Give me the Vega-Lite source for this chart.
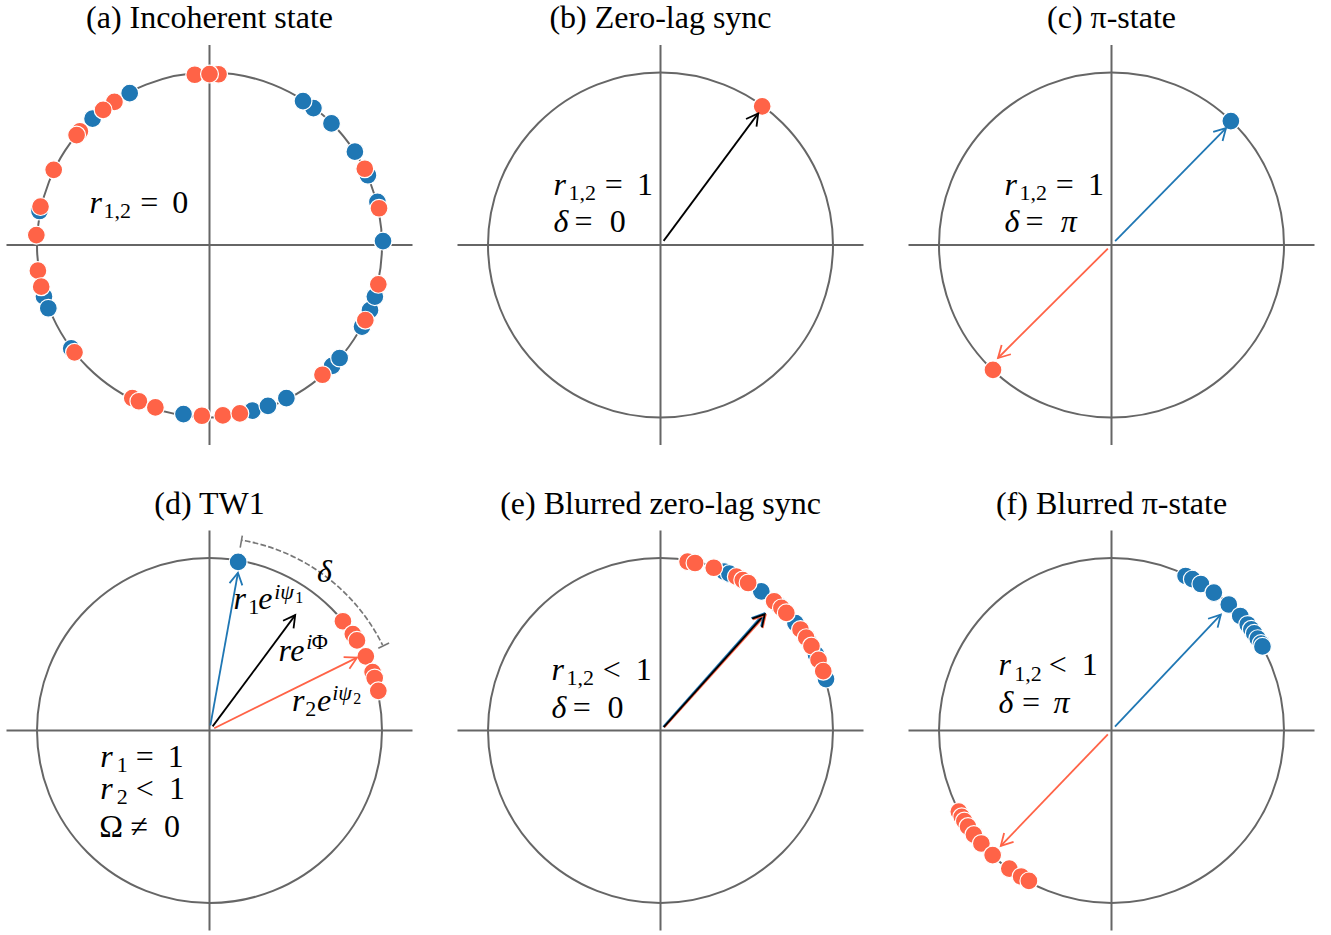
{
"$schema": "https://vega.github.io/schema/vega-lite/v6.json",
"background": "white",
"padding": {"left": 5.5, "top": 2, "right": 0, "bottom": 0},
"data": {"values": [
{"panel":"(a) Incoherent state","kind":"frame","x":0,"y":0},
{"panel":"(b) Zero-lag sync","kind":"frame","x":0,"y":0},
{"panel":"(c) π-state","kind":"frame","x":0,"y":0},
{"panel":"(d) TW1","kind":"frame","x":0,"y":0},
{"panel":"(e) Blurred zero-lag sync","kind":"frame","x":0,"y":0},
{"panel":"(f) Blurred π-state","kind":"frame","x":0,"y":0},

{"panel":"(a) Incoherent state","kind":"osc","pop":"1","x":-0.460,"y":0.888},
{"panel":"(a) Incoherent state","kind":"osc","pop":"1","x":-0.674,"y":0.739},
{"panel":"(a) Incoherent state","kind":"osc","pop":"1","x":-0.980,"y":0.199},
{"panel":"(a) Incoherent state","kind":"osc","pop":"1","x":-0.954,"y":-0.301},
{"panel":"(a) Incoherent state","kind":"osc","pop":"1","x":-0.929,"y":-0.370},
{"panel":"(a) Incoherent state","kind":"osc","pop":"1","x":-0.797,"y":-0.605},
{"panel":"(a) Incoherent state","kind":"osc","pop":"1","x":-0.150,"y":-0.989},
{"panel":"(a) Incoherent state","kind":"osc","pop":"1","x":0.247,"y":-0.969},
{"panel":"(a) Incoherent state","kind":"osc","pop":"1","x":0.337,"y":-0.941},
{"panel":"(a) Incoherent state","kind":"osc","pop":"1","x":0.443,"y":-0.896},
{"panel":"(a) Incoherent state","kind":"osc","pop":"1","x":0.707,"y":-0.707},
{"panel":"(a) Incoherent state","kind":"osc","pop":"1","x":0.750,"y":-0.661},
{"panel":"(a) Incoherent state","kind":"osc","pop":"1","x":0.879,"y":-0.477},
{"panel":"(a) Incoherent state","kind":"osc","pop":"1","x":0.925,"y":-0.381},
{"panel":"(a) Incoherent state","kind":"osc","pop":"1","x":0.953,"y":-0.302},
{"panel":"(a) Incoherent state","kind":"osc","pop":"1","x":1.000,"y":0.023},
{"panel":"(a) Incoherent state","kind":"osc","pop":"1","x":0.968,"y":0.252},
{"panel":"(a) Incoherent state","kind":"osc","pop":"1","x":0.913,"y":0.408},
{"panel":"(a) Incoherent state","kind":"osc","pop":"1","x":0.838,"y":0.546},
{"panel":"(a) Incoherent state","kind":"osc","pop":"1","x":0.703,"y":0.711},
{"panel":"(a) Incoherent state","kind":"osc","pop":"1","x":0.599,"y":0.801},
{"panel":"(a) Incoherent state","kind":"osc","pop":"1","x":0.539,"y":0.842},
{"panel":"(a) Incoherent state","kind":"osc","pop":"2","x":-0.085,"y":0.996},
{"panel":"(a) Incoherent state","kind":"osc","pop":"2","x":0.052,"y":0.999},
{"panel":"(a) Incoherent state","kind":"osc","pop":"2","x":0.000,"y":1.000},
{"panel":"(a) Incoherent state","kind":"osc","pop":"2","x":-0.548,"y":0.837},
{"panel":"(a) Incoherent state","kind":"osc","pop":"2","x":-0.613,"y":0.790},
{"panel":"(a) Incoherent state","kind":"osc","pop":"2","x":-0.747,"y":0.665},
{"panel":"(a) Incoherent state","kind":"osc","pop":"2","x":-0.766,"y":0.643},
{"panel":"(a) Incoherent state","kind":"osc","pop":"2","x":-0.898,"y":0.440},
{"panel":"(a) Incoherent state","kind":"osc","pop":"2","x":-0.974,"y":0.225},
{"panel":"(a) Incoherent state","kind":"osc","pop":"2","x":-0.998,"y":0.058},
{"panel":"(a) Incoherent state","kind":"osc","pop":"2","x":-0.989,"y":-0.150},
{"panel":"(a) Incoherent state","kind":"osc","pop":"2","x":-0.970,"y":-0.244},
{"panel":"(a) Incoherent state","kind":"osc","pop":"2","x":-0.778,"y":-0.628},
{"panel":"(a) Incoherent state","kind":"osc","pop":"2","x":-0.445,"y":-0.896},
{"panel":"(a) Incoherent state","kind":"osc","pop":"2","x":-0.407,"y":-0.914},
{"panel":"(a) Incoherent state","kind":"osc","pop":"2","x":-0.312,"y":-0.950},
{"panel":"(a) Incoherent state","kind":"osc","pop":"2","x":-0.044,"y":-0.999},
{"panel":"(a) Incoherent state","kind":"osc","pop":"2","x":0.077,"y":-0.997},
{"panel":"(a) Incoherent state","kind":"osc","pop":"2","x":0.175,"y":-0.985},
{"panel":"(a) Incoherent state","kind":"osc","pop":"2","x":0.651,"y":-0.759},
{"panel":"(a) Incoherent state","kind":"osc","pop":"2","x":0.898,"y":-0.440},
{"panel":"(a) Incoherent state","kind":"osc","pop":"2","x":0.973,"y":-0.230},
{"panel":"(a) Incoherent state","kind":"osc","pop":"2","x":0.977,"y":0.215},
{"panel":"(a) Incoherent state","kind":"osc","pop":"2","x":0.895,"y":0.446},

{"panel":"(b) Zero-lag sync","kind":"osc","pop":"2","x":0.586,"y":0.811},
{"panel":"(c) π-state","kind":"osc","pop":"1","x":0.688,"y":0.725},
{"panel":"(c) π-state","kind":"osc","pop":"2","x":-0.683,"y":-0.731},

{"panel":"(d) TW1","kind":"osc","pop":"1","x":0.165,"y":0.986},
{"panel":"(d) TW1","kind":"osc","pop":"2","x":0.769,"y":0.639},
{"panel":"(d) TW1","kind":"osc","pop":"2","x":0.826,"y":0.564},
{"panel":"(d) TW1","kind":"osc","pop":"2","x":0.850,"y":0.527},
{"panel":"(d) TW1","kind":"osc","pop":"2","x":0.901,"y":0.434},
{"panel":"(d) TW1","kind":"osc","pop":"2","x":0.940,"y":0.342},
{"panel":"(d) TW1","kind":"osc","pop":"2","x":0.952,"y":0.307},
{"panel":"(d) TW1","kind":"osc","pop":"2","x":0.973,"y":0.232},

{"panel":"(e) Blurred zero-lag sync","kind":"osc","pop":"1","x":0.182,"y":0.983},
{"panel":"(e) Blurred zero-lag sync","kind":"osc","pop":"1","x":0.367,"y":0.930},
{"panel":"(e) Blurred zero-lag sync","kind":"osc","pop":"1","x":0.397,"y":0.918},
{"panel":"(e) Blurred zero-lag sync","kind":"osc","pop":"1","x":0.462,"y":0.887},
{"panel":"(e) Blurred zero-lag sync","kind":"osc","pop":"1","x":0.581,"y":0.814},
{"panel":"(e) Blurred zero-lag sync","kind":"osc","pop":"1","x":0.682,"y":0.731},
{"panel":"(e) Blurred zero-lag sync","kind":"osc","pop":"1","x":0.778,"y":0.628},
{"panel":"(e) Blurred zero-lag sync","kind":"osc","pop":"1","x":0.853,"y":0.522},
{"panel":"(e) Blurred zero-lag sync","kind":"osc","pop":"1","x":0.896,"y":0.445},
{"panel":"(e) Blurred zero-lag sync","kind":"osc","pop":"1","x":0.954,"y":0.301},
{"panel":"(e) Blurred zero-lag sync","kind":"osc","pop":"2","x":0.156,"y":0.988},
{"panel":"(e) Blurred zero-lag sync","kind":"osc","pop":"2","x":0.199,"y":0.980},
{"panel":"(e) Blurred zero-lag sync","kind":"osc","pop":"2","x":0.307,"y":0.952},
{"panel":"(e) Blurred zero-lag sync","kind":"osc","pop":"2","x":0.437,"y":0.900},
{"panel":"(e) Blurred zero-lag sync","kind":"osc","pop":"2","x":0.474,"y":0.880},
{"panel":"(e) Blurred zero-lag sync","kind":"osc","pop":"2","x":0.505,"y":0.863},
{"panel":"(e) Blurred zero-lag sync","kind":"osc","pop":"2","x":0.655,"y":0.756},
{"panel":"(e) Blurred zero-lag sync","kind":"osc","pop":"2","x":0.697,"y":0.717},
{"panel":"(e) Blurred zero-lag sync","kind":"osc","pop":"2","x":0.725,"y":0.688},
{"panel":"(e) Blurred zero-lag sync","kind":"osc","pop":"2","x":0.807,"y":0.591},
{"panel":"(e) Blurred zero-lag sync","kind":"osc","pop":"2","x":0.840,"y":0.543},
{"panel":"(e) Blurred zero-lag sync","kind":"osc","pop":"2","x":0.870,"y":0.494},
{"panel":"(e) Blurred zero-lag sync","kind":"osc","pop":"2","x":0.911,"y":0.413},
{"panel":"(e) Blurred zero-lag sync","kind":"osc","pop":"2","x":0.938,"y":0.347},

{"panel":"(f) Blurred π-state","kind":"osc","pop":"1","x":0.427,"y":0.904},
{"panel":"(f) Blurred π-state","kind":"osc","pop":"1","x":0.466,"y":0.885},
{"panel":"(f) Blurred π-state","kind":"osc","pop":"1","x":0.515,"y":0.857},
{"panel":"(f) Blurred π-state","kind":"osc","pop":"1","x":0.590,"y":0.807},
{"panel":"(f) Blurred π-state","kind":"osc","pop":"1","x":0.676,"y":0.737},
{"panel":"(f) Blurred π-state","kind":"osc","pop":"1","x":0.742,"y":0.670},
{"panel":"(f) Blurred π-state","kind":"osc","pop":"1","x":0.785,"y":0.620},
{"panel":"(f) Blurred π-state","kind":"osc","pop":"1","x":0.806,"y":0.592},
{"panel":"(f) Blurred π-state","kind":"osc","pop":"1","x":0.823,"y":0.568},
{"panel":"(f) Blurred π-state","kind":"osc","pop":"1","x":0.843,"y":0.537},
{"panel":"(f) Blurred π-state","kind":"osc","pop":"1","x":0.862,"y":0.508},
{"panel":"(f) Blurred π-state","kind":"osc","pop":"1","x":0.870,"y":0.492},
{"panel":"(f) Blurred π-state","kind":"osc","pop":"2","x":-0.880,"y":-0.474},
{"panel":"(f) Blurred π-state","kind":"osc","pop":"2","x":-0.863,"y":-0.505},
{"panel":"(f) Blurred π-state","kind":"osc","pop":"2","x":-0.848,"y":-0.530},
{"panel":"(f) Blurred π-state","kind":"osc","pop":"2","x":-0.827,"y":-0.562},
{"panel":"(f) Blurred π-state","kind":"osc","pop":"2","x":-0.793,"y":-0.609},
{"panel":"(f) Blurred π-state","kind":"osc","pop":"2","x":-0.750,"y":-0.661},
{"panel":"(f) Blurred π-state","kind":"osc","pop":"2","x":-0.685,"y":-0.729},
{"panel":"(f) Blurred π-state","kind":"osc","pop":"2","x":-0.589,"y":-0.808},
{"panel":"(f) Blurred π-state","kind":"osc","pop":"2","x":-0.521,"y":-0.854},
{"panel":"(f) Blurred π-state","kind":"osc","pop":"2","x":-0.476,"y":-0.880},

{"panel":"(b) Zero-lag sync","kind":"arrow","pop":"mean","x":0.018,"y":0.024,"x2":0.563,"y2":0.770,"phase":53.8},
{"panel":"(c) π-state","kind":"arrow","pop":"1","x":0.021,"y":0.022,"x2":0.660,"y2":0.684,"phase":46.0},
{"panel":"(c) π-state","kind":"arrow","pop":"2","x":-0.021,"y":-0.021,"x2":-0.654,"y2":-0.661,"phase":225.3},
{"panel":"(d) TW1","kind":"arrow","pop":"1","x":0.005,"y":0.030,"x2":0.164,"y2":0.923,"phase":80.0},
{"panel":"(d) TW1","kind":"arrow","pop":"2","x":0.027,"y":0.013,"x2":0.850,"y2":0.426,"phase":26.6},
{"panel":"(d) TW1","kind":"arrow","pop":"mean","x":0.018,"y":0.024,"x2":0.494,"y2":0.675,"phase":53.8},
{"panel":"(e) Blurred zero-lag sync","kind":"arrow","pop":"1","x":0.015,"y":0.022,"x2":0.596,"y2":0.685,"phase":49.0},
{"panel":"(e) Blurred zero-lag sync","kind":"arrow","pop":"2","x":0.022,"y":0.018,"x2":0.606,"y2":0.675,"phase":48.0},
{"panel":"(e) Blurred zero-lag sync","kind":"arrow","pop":"mean","x":0.019,"y":0.020,"x2":0.601,"y2":0.680,"phase":48.5},
{"panel":"(f) Blurred π-state","kind":"arrow","pop":"1","x":0.020,"y":0.022,"x2":0.630,"y2":0.678,"phase":47.1},
{"panel":"(f) Blurred π-state","kind":"arrow","pop":"2","x":-0.021,"y":-0.022,"x2":-0.638,"y2":-0.675,"phase":226.6},

{"panel":"(d) TW1","kind":"delta","phase":80.6,"phase2":26.3},
{"panel":"(d) TW1","kind":"tick","x":0.177,"y":1.070,"x2":0.189,"y2":1.140},
{"panel":"(d) TW1","kind":"tick","x":0.973,"y":0.481,"x2":1.035,"y2":0.512},

{"panel":"(a) Incoherent state","kind":"label","glyph":"var","level":0,"text":"r","x":-0.692,"y":0.187},
{"panel":"(a) Incoherent state","kind":"label","glyph":"num","level":1,"text":"1,2","x":-0.611,"y":0.158},
{"panel":"(a) Incoherent state","kind":"label","glyph":"num","level":0,"text":"=","x":-0.399,"y":0.187},
{"panel":"(a) Incoherent state","kind":"label","glyph":"num","level":0,"text":"0","x":-0.215,"y":0.187},

{"panel":"(b) Zero-lag sync","kind":"label","glyph":"var","level":0,"text":"r","x":-0.617,"y":0.292},
{"panel":"(b) Zero-lag sync","kind":"label","glyph":"num","level":1,"text":"1,2","x":-0.530,"y":0.263},
{"panel":"(b) Zero-lag sync","kind":"label","glyph":"num","level":0,"text":"=","x":-0.322,"y":0.292},
{"panel":"(b) Zero-lag sync","kind":"label","glyph":"num","level":0,"text":"1","x":-0.135,"y":0.292},
{"panel":"(b) Zero-lag sync","kind":"label","glyph":"var","level":0,"text":"δ","x":-0.617,"y":0.078},
{"panel":"(b) Zero-lag sync","kind":"label","glyph":"num","level":0,"text":"=","x":-0.495,"y":0.078},
{"panel":"(b) Zero-lag sync","kind":"label","glyph":"num","level":0,"text":"0","x":-0.293,"y":0.078},

{"panel":"(c) π-state","kind":"label","glyph":"var","level":0,"text":"r","x":-0.617,"y":0.292},
{"panel":"(c) π-state","kind":"label","glyph":"num","level":1,"text":"1,2","x":-0.530,"y":0.263},
{"panel":"(c) π-state","kind":"label","glyph":"num","level":0,"text":"=","x":-0.322,"y":0.292},
{"panel":"(c) π-state","kind":"label","glyph":"num","level":0,"text":"1","x":-0.135,"y":0.292},
{"panel":"(c) π-state","kind":"label","glyph":"var","level":0,"text":"δ","x":-0.617,"y":0.078},
{"panel":"(c) π-state","kind":"label","glyph":"num","level":0,"text":"=","x":-0.495,"y":0.078},
{"panel":"(c) π-state","kind":"label","glyph":"var","level":0,"text":"π","x":-0.293,"y":0.078},

{"panel":"(d) TW1","kind":"label","glyph":"var","level":0,"text":"r","x":0.138,"y":0.711},
{"panel":"(d) TW1","kind":"label","glyph":"num","level":1,"text":"1","x":0.223,"y":0.681},
{"panel":"(d) TW1","kind":"label","glyph":"var","level":0,"text":"e","x":0.281,"y":0.711},
{"panel":"(d) TW1","kind":"label","glyph":"var","level":1,"text":"iψ","x":0.373,"y":0.769},
{"panel":"(d) TW1","kind":"label","glyph":"num","level":2,"text":"1","x":0.494,"y":0.746},
{"panel":"(d) TW1","kind":"label","glyph":"var","level":0,"text":"r","x":0.398,"y":0.406},
{"panel":"(d) TW1","kind":"label","glyph":"var","level":0,"text":"e","x":0.465,"y":0.406},
{"panel":"(d) TW1","kind":"label","glyph":"var","level":1,"text":"i","x":0.557,"y":0.477},
{"panel":"(d) TW1","kind":"label","glyph":"num","level":1,"text":"Φ","x":0.590,"y":0.477},
{"panel":"(d) TW1","kind":"label","glyph":"var","level":0,"text":"r","x":0.475,"y":0.114},
{"panel":"(d) TW1","kind":"label","glyph":"num","level":1,"text":"2","x":0.552,"y":0.085},
{"panel":"(d) TW1","kind":"label","glyph":"var","level":0,"text":"e","x":0.619,"y":0.114},
{"panel":"(d) TW1","kind":"label","glyph":"var","level":1,"text":"iψ","x":0.707,"y":0.178},
{"panel":"(d) TW1","kind":"label","glyph":"num","level":2,"text":"2","x":0.828,"y":0.155},
{"panel":"(d) TW1","kind":"label","glyph":"var","level":0,"text":"δ","x":0.619,"y":0.868},
{"panel":"(d) TW1","kind":"label","glyph":"var","level":0,"text":"r","x":-0.630,"y":-0.213},
{"panel":"(d) TW1","kind":"label","glyph":"num","level":1,"text":"1","x":-0.535,"y":-0.243},
{"panel":"(d) TW1","kind":"label","glyph":"num","level":0,"text":"=","x":-0.425,"y":-0.213},
{"panel":"(d) TW1","kind":"label","glyph":"num","level":0,"text":"1","x":-0.240,"y":-0.213},
{"panel":"(d) TW1","kind":"label","glyph":"var","level":0,"text":"r","x":-0.630,"y":-0.401},
{"panel":"(d) TW1","kind":"label","glyph":"num","level":1,"text":"2","x":-0.535,"y":-0.430},
{"panel":"(d) TW1","kind":"label","glyph":"num","level":0,"text":"<","x":-0.425,"y":-0.401},
{"panel":"(d) TW1","kind":"label","glyph":"num","level":0,"text":"1","x":-0.234,"y":-0.401},
{"panel":"(d) TW1","kind":"label","glyph":"num","level":0,"text":"Ω","x":-0.635,"y":-0.623},
{"panel":"(d) TW1","kind":"label","glyph":"num","level":0,"text":"≠","x":-0.455,"y":-0.623},
{"panel":"(d) TW1","kind":"label","glyph":"num","level":0,"text":"0","x":-0.262,"y":-0.623},

{"panel":"(e) Blurred zero-lag sync","kind":"label","glyph":"var","level":0,"text":"r","x":-0.628,"y":0.295},
{"panel":"(e) Blurred zero-lag sync","kind":"label","glyph":"num","level":1,"text":"1,2","x":-0.542,"y":0.266},
{"panel":"(e) Blurred zero-lag sync","kind":"label","glyph":"num","level":0,"text":"<","x":-0.333,"y":0.295},
{"panel":"(e) Blurred zero-lag sync","kind":"label","glyph":"num","level":0,"text":"1","x":-0.143,"y":0.295},
{"panel":"(e) Blurred zero-lag sync","kind":"label","glyph":"var","level":0,"text":"δ","x":-0.628,"y":0.075},
{"panel":"(e) Blurred zero-lag sync","kind":"label","glyph":"num","level":0,"text":"=","x":-0.506,"y":0.075},
{"panel":"(e) Blurred zero-lag sync","kind":"label","glyph":"num","level":0,"text":"0","x":-0.306,"y":0.075},

{"panel":"(f) Blurred π-state","kind":"label","glyph":"var","level":0,"text":"r","x":-0.651,"y":0.322},
{"panel":"(f) Blurred π-state","kind":"label","glyph":"num","level":1,"text":"1,2","x":-0.561,"y":0.292},
{"panel":"(f) Blurred π-state","kind":"label","glyph":"num","level":0,"text":"<","x":-0.362,"y":0.322},
{"panel":"(f) Blurred π-state","kind":"label","glyph":"num","level":0,"text":"1","x":-0.172,"y":0.322},
{"panel":"(f) Blurred π-state","kind":"label","glyph":"var","level":0,"text":"δ","x":-0.651,"y":0.101},
{"panel":"(f) Blurred π-state","kind":"label","glyph":"num","level":0,"text":"=","x":-0.516,"y":0.101},
{"panel":"(f) Blurred π-state","kind":"label","glyph":"var","level":0,"text":"π","x":-0.335,"y":0.101}
]},
"facet": {"field": "panel", "type": "nominal",
  "header": {"title": null, "labelFont": "Liberation Serif", "labelFontSize": 32, "labelColor": "#000000", "labelPadding": 9}},
"columns": 3,
"spacing": {"row": 41.5, "column": 43},
"spec": {
  "width": 406,
  "height": 400,
  "layer": [
    {"transform": [{"filter": "datum.kind === 'frame'"}],
     "mark": {"type": "rule", "color": "#666666", "strokeWidth": 2},
     "encoding": {"x": {"field": "x", "type": "quantitative", "scale": {"domain": [-1.17, 1.17], "nice": false, "zero": false}, "axis": null}}},
    {"transform": [{"filter": "datum.kind === 'frame'"}],
     "mark": {"type": "rule", "color": "#666666", "strokeWidth": 2},
     "encoding": {"y": {"field": "y", "type": "quantitative", "scale": {"domain": [-1.17, 1.17], "nice": false, "zero": false}, "axis": null}}},
    {"transform": [{"filter": "datum.kind === 'frame'"}],
     "mark": {"type": "point", "shape": "circle", "size": 119025, "filled": false, "stroke": "#666666", "strokeWidth": 2, "opacity": 1},
     "encoding": {"x": {"field": "x", "type": "quantitative"}, "y": {"field": "y", "type": "quantitative"}}},
    {"transform": [{"filter": "datum.kind === 'delta'"}],
     "mark": {"type": "arc", "filled": false, "radius": 193, "radius2": 193, "stroke": "#777777", "strokeWidth": 1.6, "strokeDash": [5.5, 2.5], "strokeDashOffset": 3.85},
     "encoding": {"theta": {"field": "phase", "type": "quantitative", "scale": {"domain": [0, 90], "range": [1.5708, 0]}},
                  "theta2": {"field": "phase2"}}},
    {"transform": [{"filter": "datum.kind === 'tick'"}],
     "mark": {"type": "rule", "color": "#777777", "strokeWidth": 1.6},
     "encoding": {"x": {"field": "x", "type": "quantitative"}, "y": {"field": "y", "type": "quantitative"},
                  "x2": {"field": "x2"}, "y2": {"field": "y2"}}},
    {"transform": [{"filter": "datum.kind === 'osc'"}],
     "mark": {"type": "point", "shape": "circle", "filled": true, "size": 320, "stroke": "white", "strokeWidth": 1.2, "opacity": 1},
     "encoding": {"x": {"field": "x", "type": "quantitative"}, "y": {"field": "y", "type": "quantitative"},
                  "fill": {"field": "pop", "type": "nominal", "scale": {"domain": ["1", "2", "mean"], "range": ["#1f77b4", "#ff6347", "#000000"]}, "legend": null}}},
    {"transform": [{"filter": "datum.kind === 'arrow'"}],
     "mark": {"type": "rule", "strokeWidth": 1.8},
     "encoding": {"x": {"field": "x", "type": "quantitative"}, "y": {"field": "y", "type": "quantitative"},
                  "x2": {"field": "x2"}, "y2": {"field": "y2"},
                  "color": {"field": "pop", "type": "nominal", "scale": {"domain": ["1", "2", "mean"], "range": ["#1f77b4", "#ff6347", "#000000"]}, "legend": null}}},
    {"transform": [{"filter": "datum.kind === 'arrow'"}],
     "mark": {"type": "point", "shape": "M -0.5 0.9 L 0 0 L 0.5 0.9", "size": 676, "filled": false, "strokeWidth": 1.8, "opacity": 1},
     "encoding": {"x": {"field": "x2", "type": "quantitative"}, "y": {"field": "y2", "type": "quantitative"},
                  "angle": {"field": "phase", "type": "quantitative", "scale": {"domain": [0, 90], "range": [90, 0]}},
                  "color": {"field": "pop", "type": "nominal", "scale": {"domain": ["1", "2", "mean"], "range": ["#1f77b4", "#ff6347", "#000000"]}, "legend": null}}},
    {"transform": [{"filter": "datum.kind === 'label' && datum.glyph === 'var'"}],
     "mark": {"type": "text", "font": "Liberation Serif", "fontStyle": "italic", "align": "left", "baseline": "alphabetic", "color": "#000000"},
     "encoding": {"x": {"field": "x", "type": "quantitative"}, "y": {"field": "y", "type": "quantitative"},
                  "text": {"field": "text"},
                  "size": {"field": "level", "type": "quantitative", "scale": {"domain": [0, 1, 2], "range": [32, 22, 16]}, "legend": null}}},
    {"transform": [{"filter": "datum.kind === 'label' && datum.glyph === 'num'"}],
     "mark": {"type": "text", "font": "Liberation Serif", "fontStyle": "normal", "align": "left", "baseline": "alphabetic", "color": "#000000"},
     "encoding": {"x": {"field": "x", "type": "quantitative"}, "y": {"field": "y", "type": "quantitative"},
                  "text": {"field": "text"},
                  "size": {"field": "level", "type": "quantitative", "scale": {"domain": [0, 1, 2], "range": [32, 22, 16]}, "legend": null}}}
  ]
},
"config": {"view": {"stroke": null}}
}
